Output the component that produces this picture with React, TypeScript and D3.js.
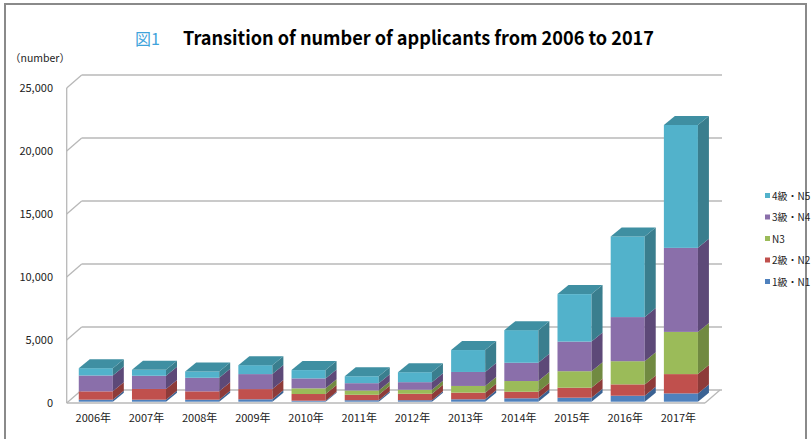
import React from "react";
import * as d3 from "d3";

const years = ["2006年","2007年","2008年","2009年","2010年","2011年","2012年","2013年","2014年","2015年","2016年","2017年"];
const seriesNames = ["1級・N1","2級・N2","N3","3級・N4","4級・N5"];
const n1 = [160,160,160,190,80,120,120,190,270,320,475,660];
const n2 = [660,850,660,810,530,430,510,530,520,790,900,1530];
const n3 = [0,0,0,0,450,340,320,530,850,1310,1840,3350];
const n4 = [1260,1050,1080,1190,790,580,600,1110,1450,2350,3500,6670];
const n5 = [580,470,500,710,660,550,790,1740,2590,3770,6400,9750];
const yTicks = [0,5000,10000,15000,20000,25000];

const frontCol = ["#4F81BD","#C0504D","#9BBB59","#8A6FAA","#52B2CB"];
const sideCol = ["#3A6293","#8E3B39","#718A41","#5D4978","#3A7E8E"];
const topCol = ["#4573A8","#A84744","#86A34C","#70588F","#3F8FA2"];

export default function App() {
  const W = 812, H = 439;
  const x0 = 66.7, x1 = 705, yFront0 = 403, yFront1 = 88;
  const wdx = 15, wdy = -13;
  const x = d3.scaleBand<string>().domain(years).range([x0, x1]);
  const y = d3.scaleLinear().domain([0, 25000]).range([yFront0, yFront1]);
  const data = years.map((yr, i) => ({ yr, s0: n1[i], s1: n2[i], s2: n3[i], s3: n4[i], s4: n5[i] }));
  const stack = d3.stack<any>().keys(["s0","s1","s2","s3","s4"])(data);
  const barW = x.bandwidth() * 0.64;
  const bShiftX = 2.5, bShiftY = -1.3;
  const bdx = 11, bdy = -9;
  const font = "'Noto Sans CJK JP', 'Noto Sans', sans-serif";

  return (
    <svg width={W} height={H} style={{ display: "block", position: "absolute", left: 0, top: 0 }}>
      <rect x={0} y={0} width={W} height={H} fill="#fff" />
      <rect x={5} y={4} width={801} height={450} fill="none" stroke="#8a8a8a" strokeWidth={2} />
      <text x={135} y={45} fontFamily={font} fontSize={16} fill="#3FA3DB">図1</text>
      <text x={183} y={45} fontFamily={font} fontSize={19} fontWeight="bold" fill="#000" textLength={471} lengthAdjust="spacingAndGlyphs">Transition of number of applicants from 2006 to 2017</text>
      <text x={10} y={62} fontFamily={font} fontSize={10.5} fill="#222">（number）</text>
      {yTicks.map(t => (
        <g key={t}>
          <line x1={x0} y1={y(t)} x2={x0 + wdx} y2={y(t) + wdy} stroke="#b8b8b8" strokeWidth={1.3} />
          <line x1={x0 + wdx} y1={y(t) + wdy} x2={x1 + wdx + 2} y2={y(t) + wdy} stroke="#b8b8b8" strokeWidth={1.3} />
          <text x={53} y={y(t) + 4} textAnchor="end" fontFamily={font} fontSize={11} fill="#222">{d3.format(",")(t)}</text>
        </g>
      ))}
      <line x1={x0} y1={yFront1} x2={x0} y2={yFront0} stroke="#b8b8b8" strokeWidth={1.3} />
      <line x1={x0} y1={yFront0} x2={x1} y2={yFront0} stroke="#b8b8b8" strokeWidth={1.3} />
      <line x1={x1} y1={yFront0} x2={x1 + wdx} y2={yFront0 + wdy} stroke="#b8b8b8" strokeWidth={1.3} />
      {years.map((yr, i) => {
        const bx = (x(yr) as number) + (x.bandwidth() - barW) / 2 + bShiftX;
        const topIdx = 4;
        return (
          <g key={yr}>
            {stack.map((s, k) => {
              const v0 = s[i][0], v1 = s[i][1];
              if (v1 - v0 <= 0) return null;
              const yb = y(v0) + bShiftY, yt = y(v1) + bShiftY;
              const side = `M${bx + barW},${yb} L${bx + barW + bdx},${yb + bdy} L${bx + barW + bdx},${yt + bdy} L${bx + barW},${yt} Z`;
              return (
                <g key={k}>
                  <rect x={bx} y={yt} width={barW} height={yb - yt} fill={frontCol[k]} />
                  <path d={side} fill={sideCol[k]} />
                  {k === topIdx && (
                    <path d={`M${bx},${yt} L${bx + bdx},${yt + bdy} L${bx + barW + bdx},${yt + bdy} L${bx + barW},${yt} Z`} fill={topCol[k]} />
                  )}
                </g>
              );
            })}
            <text x={(x(yr) as number) + x.bandwidth() / 2} y={422} textAnchor="middle" fontFamily={font} fontSize={11} fill="#222">{yr}</text>
          </g>
        );
      })}
      {[4,3,2,1,0].map((k, j) => (
        <g key={k}>
          <rect x={765} y={193 + j * 21.5} width={5} height={5} fill={frontCol[k]} />
          <text x={772} y={199.5 + j * 21.5} fontFamily={font} fontSize={10} fill="#222">{seriesNames[k]}</text>
        </g>
      ))}
    </svg>
  );
}
